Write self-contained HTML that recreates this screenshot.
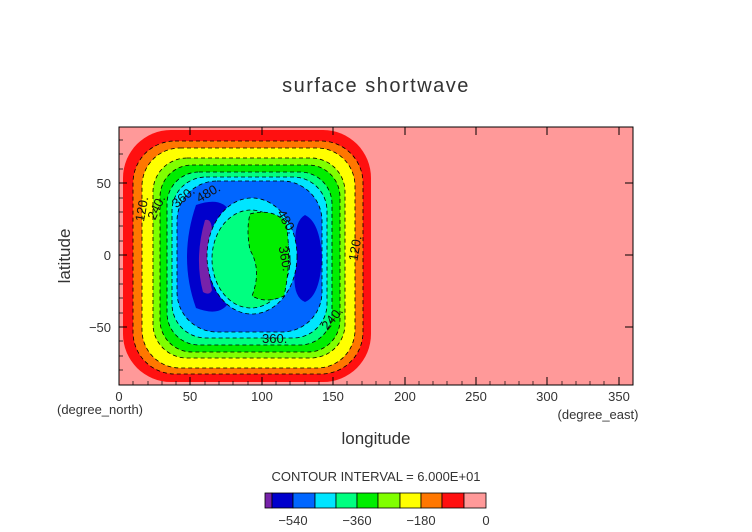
<!DOCTYPE html>
<html><head><meta charset="utf-8"><style>
html,body{margin:0;padding:0;background:#fff;}
svg{display:block;font-family:"Liberation Sans",sans-serif;}
</style></head><body>
<svg width="752" height="532" viewBox="0 0 752 532" xmlns="http://www.w3.org/2000/svg">
<rect width="752" height="532" fill="#fff"/>
<text x="376" y="92" font-size="20" text-anchor="middle" fill="#333" letter-spacing="1.5">surface shortwave</text>
<rect x="119" y="127" width="514" height="258" fill="#ff9999"/>
<rect x="123" y="130" width="248" height="252" rx="48" fill="#ff1010"/>
<g stroke="#000" stroke-width="0.8" stroke-dasharray="4,3">
<rect x="133" y="141" width="230" height="233" rx="42" fill="#ff7700"/>
<rect x="142" y="148" width="213" height="220" rx="38" fill="#ffff00"/>
<rect x="153" y="158" width="192" height="200" rx="34" fill="#80ff00"/>
<rect x="160" y="165" width="180" height="187" rx="32" fill="#00ee00"/>
<rect x="167" y="172" width="165" height="173" rx="32" fill="#00ff80"/>
<rect x="172" y="177" width="155" height="161" rx="34" fill="#00e5ff"/>
<rect x="177" y="181" width="145" height="151" rx="40" fill="#0066ff"/>
</g>
<path d="M196,205 Q222,196 230,212 Q210,255 230,300 Q222,318 196,308 Q178,258 196,205 Z" fill="#0000cc"/>
<path d="M305,215 Q320,222 322,258 Q320,296 305,302 Q290,296 296,258 Q292,222 305,215 Z" fill="#0000cc"/>
<path d="M205,220 Q212,218 212,232 Q204,258 212,290 Q210,296 203,292 Q194,258 205,220 Z" fill="#7722aa"/>
<g stroke="#000" stroke-width="0.8" stroke-dasharray="4,3">
<ellipse cx="252" cy="256" rx="45" ry="58" fill="#00e5ff"/>
<ellipse cx="251" cy="259" rx="39" ry="49" fill="#00ff80"/>
<path d="M250,214 Q272,208 286,222 Q292,260 284,296 Q266,304 252,296 Q262,270 250,250 Q246,230 250,214 Z" fill="#00ee00"/>
</g>
<g font-size="13" fill="#111">
<text x="127" y="228" transform="rotate(-80 132 215)">120.</text>
<text x="143" y="222" transform="rotate(-65 148 212)">240.</text>
<text x="170" y="205" transform="rotate(-40 178 198)">360.</text>
<text x="196" y="200" transform="rotate(-30 203 195)">480.</text>
<text x="268" y="216" transform="rotate(60 275 222)">480.</text>
<text x="266" y="248" transform="rotate(80 273 255)">360.</text>
<text x="361" y="250" transform="rotate(-80 366 258)">120.</text>
<text x="320" y="325" transform="rotate(-50 330 320)">240.</text>
<text x="262" y="343">360.</text>
</g>
<rect x="119" y="127" width="514" height="258" fill="none" stroke="#000" stroke-width="1"/>
<g stroke="#000" stroke-width="1">
<path d="M190,385v-8M262,385v-8M333,385v-8M405,385v-8M476,385v-8M547,385v-8M619,385v-8
M190,127v8M262,127v8M333,127v8M405,127v8M476,127v8M547,127v8M619,127v8
M119,183h8M119,255h8M119,327h8M633,183h-8M633,255h-8M633,327h-8"/>
</g>
<g stroke="#000" stroke-width="0.7">
<path d="M133,385v-4M148,385v-4M162,385v-4M176,385v-4M205,385v-4M219,385v-4M233,385v-4M248,385v-4M276,385v-4M290,385v-4M305,385v-4M319,385v-4M347,385v-4M362,385v-4M376,385v-4M390,385v-4M419,385v-4M433,385v-4M447,385v-4M462,385v-4M490,385v-4M505,385v-4M519,385v-4M533,385v-4M562,385v-4M576,385v-4M590,385v-4M604,385v-4
M119,140h4M119,154h4M119,169h4M119,198h4M119,212h4M119,226h4M119,241h4M119,269h4M119,284h4M119,298h4M119,313h4M119,341h4M119,356h4M119,370h4"/>
</g>
<g font-size="13" fill="#333" text-anchor="middle">
<text x="119" y="401">0</text><text x="190" y="401">50</text><text x="262" y="401">100</text><text x="333" y="401">150</text><text x="405" y="401">200</text><text x="476" y="401">250</text><text x="547" y="401">300</text><text x="619" y="401">350</text>
<text x="100" y="414">(degree_north)</text>
<text x="598" y="419">(degree_east)</text>
</g>
<g font-size="13" fill="#333" text-anchor="end">
<text x="111" y="188">50</text><text x="111" y="260">0</text><text x="111" y="332">−50</text>
</g>
<text x="376" y="444" font-size="17" text-anchor="middle" fill="#333">longitude</text>
<text transform="translate(70,256) rotate(-90)" font-size="17" text-anchor="middle" fill="#333">latitude</text>
<text x="376" y="481" font-size="13" text-anchor="middle" fill="#333">CONTOUR INTERVAL = 6.000E+01</text>
<g stroke="#000" stroke-width="0.8">
<rect x="265" y="493" width="7" height="15" fill="#7722aa"/>
<rect x="272" y="493" width="21" height="15" fill="#0000cc"/>
<rect x="293" y="493" width="22" height="15" fill="#0066ff"/>
<rect x="315" y="493" width="21" height="15" fill="#00e5ff"/>
<rect x="336" y="493" width="21" height="15" fill="#00ff80"/>
<rect x="357" y="493" width="21" height="15" fill="#00ee00"/>
<rect x="378" y="493" width="22" height="15" fill="#80ff00"/>
<rect x="400" y="493" width="21" height="15" fill="#ffff00"/>
<rect x="421" y="493" width="21" height="15" fill="#ff7700"/>
<rect x="442" y="493" width="22" height="15" fill="#ff1010"/>
<rect x="464" y="493" width="22" height="15" fill="#ff9999"/>
</g>
<g font-size="13" fill="#333" text-anchor="middle">
<text x="293" y="525">−540</text><text x="357" y="525">−360</text><text x="421" y="525">−180</text><text x="486" y="525">0</text>
</g>
</svg>
</body></html>
